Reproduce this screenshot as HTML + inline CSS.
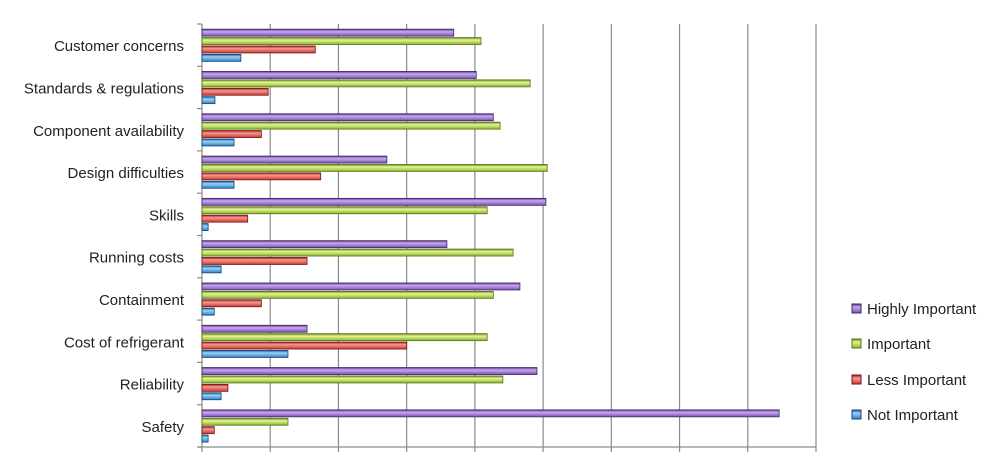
<!DOCTYPE html>
<html><head><meta charset="utf-8"><style>
body{margin:0;background:#fff;}
svg{display:block;font-family:"Liberation Sans",sans-serif;}
</style></head><body>
<svg id="chart" width="1000" height="454" viewBox="0 0 1000 454" xmlns="http://www.w3.org/2000/svg">
<defs>
<linearGradient id="gP" x1="0" y1="0" x2="0" y2="1"><stop offset="0" stop-color="#5a3a8a"/><stop offset="0.35" stop-color="#c9a8f0"/><stop offset="1" stop-color="#7a52b0"/></linearGradient>
<linearGradient id="gG" x1="0" y1="0" x2="0" y2="1"><stop offset="0" stop-color="#6a8a1a"/><stop offset="0.35" stop-color="#e4f59a"/><stop offset="1" stop-color="#8ab42a"/></linearGradient>
<linearGradient id="gR" x1="0" y1="0" x2="0" y2="1"><stop offset="0" stop-color="#9a1e1e"/><stop offset="0.35" stop-color="#f59a90"/><stop offset="1" stop-color="#c83a34"/></linearGradient>
<linearGradient id="gB" x1="0" y1="0" x2="0" y2="1"><stop offset="0" stop-color="#1a5a9a"/><stop offset="0.35" stop-color="#9ad2f5"/><stop offset="1" stop-color="#2e7ec8"/></linearGradient>
</defs>
<g id="grid"></g><g id="bars"></g><g id="labels"></g><g id="legend"></g>
</svg>
<script>
const categories=["Customer concerns","Standards & regulations","Component availability","Design difficulties","Skills","Running costs","Containment","Cost of refrigerant","Reliability","Safety"];
const highlyImportant=[3.69,4.02,4.27,2.71,5.04,3.59,4.66,1.54,4.91,8.46];
const important=[4.09,4.81,4.37,5.06,4.18,4.56,4.27,4.18,4.41,1.26];
const lessImportant=[1.66,0.97,0.87,1.74,0.67,1.54,0.87,3.0,0.38,0.18];
const notImportant=[0.57,0.19,0.47,0.47,0.09,0.28,0.18,1.26,0.28,0.09];
const seriesNames=["Highly Important","Important","Less Important","Not  Important"];
const xMax=9;

const NS="http://www.w3.org/2000/svg";
const L=202,R=816,T=24,B=447;
const band=(B-T)/categories.length;
const x=v=>L+v/xMax*(R-L);
const yBand=i=>T+i*band;
function mk(tag,attrs,parent){const e=document.createElementNS(NS,tag);for(const k in attrs)e.setAttribute(k,attrs[k]);parent.appendChild(e);return e;}
const grid=document.getElementById('grid'),bars=document.getElementById('bars'),labels=document.getElementById('labels'),legend=document.getElementById('legend');
for(let t=0;t<=xMax;t++){
 const l=mk('line',{x1:x(t),x2:x(t),y1:T,y2:B+5,stroke:'#8a8a8a','stroke-width':1.2},grid);
 
 
}
const ax=mk('line',{x1:L-4,x2:R,y1:B,y2:B,stroke:'#8a8a8a','stroke-width':1.2},grid);


for(let i=0;i<=categories.length;i++){
 const tk=mk('line',{x1:L-5,x2:L,y1:yBand(i),y2:yBand(i),stroke:'#8a8a8a','stroke-width':1.2},grid);
 
 
}
const series=[highlyImportant,important,lessImportant,notImportant];
const fills=['url(#gP)','url(#gG)','url(#gR)','url(#gB)'];
const strokes=['#3e2a66','#5a7414','#7a1414','#14457a'];
const keys=['highly-important','important','less-important','not-important'];
categories.forEach((c,i)=>{
 const y0=yBand(i)+band/2-16;
 series.forEach((s,j)=>{
  const r=mk('rect',{x:L,y:y0+j*8.4,width:Math.max(1,x(s[i])-L),height:7,fill:fills[j],stroke:strokes[j],'stroke-width':0.8},bars);
  
  
 });
 const t=mk('text',{x:184,y:yBand(i)+band/2+6,'text-anchor':'end','font-size':15,fill:'#222'},labels);
 t.textContent=c;
 
 
});
const legY=[309,344,380,415];
seriesNames.forEach((n,j)=>{
 const g=mk('g',{},legend);
 
 
 mk('rect',{x:852,y:legY[j]-5,width:9,height:9,fill:fills[j],stroke:strokes[j],'stroke-width':1},g);
 const t=mk('text',{x:867,y:legY[j]+5,'font-size':15,fill:'#222','xml:space':'preserve'},g);
 t.textContent=n;
});
</script>
</body></html>
